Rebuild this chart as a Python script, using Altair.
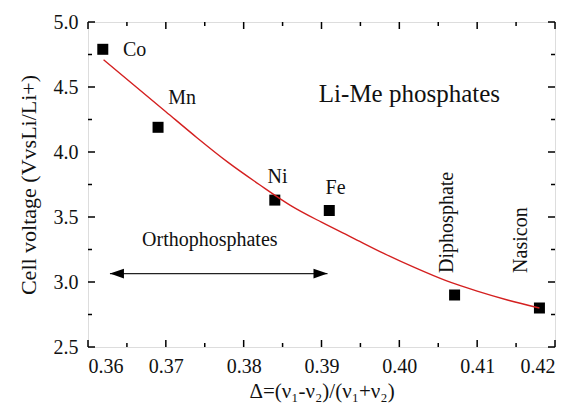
import altair as alt
import pandas as pd

# Data points
names = ["Co", "Mn", "Ni", "Fe", "Diphosphate", "Nasicon"]
delta = [0.3619, 0.3690, 0.3840, 0.3910, 0.4071, 0.4180]
voltage = [4.79, 4.19, 3.63, 3.55, 2.90, 2.80]

# Fitted curve
fit_x = [0.362, 0.366, 0.370, 0.374, 0.378, 0.382, 0.386, 0.390, 0.394,
         0.398, 0.402, 0.406, 0.410, 0.414, 0.418]
fit_y = [4.71, 4.51, 4.31, 4.11, 3.92, 3.75, 3.59, 3.46, 3.34,
         3.22, 3.11, 3.01, 2.93, 2.86, 2.80]

# Point labels
lab_text = ["Co", "Mn", "Ni", "Fe", "Orthophosphates"]
lab_x = [0.3645, 0.3703, 0.38436, 0.3918, 0.37565]
lab_y = [4.785, 4.415, 3.81, 3.72, 3.32]

title_text = ["Li-Me phosphates"]
title_x = [0.4013]
title_y = [4.45]

rot_text = ["Diphosphate", "Nasicon"]
rot_x = [0.40615, 0.41564]
rot_y = [3.07, 3.07]

# Arrow
arrow_x = [0.36282, 0.39077]
arrow_y = [3.065, 3.065]

# Ticks
x_major = [0.36, 0.37, 0.38, 0.39, 0.40, 0.41, 0.42]
x_minor = [0.365, 0.375, 0.385, 0.395, 0.405, 0.415]
y_major = [2.5, 3.0, 3.5, 4.0, 4.5, 5.0]
y_minor = [2.75, 3.25, 3.75, 4.25, 4.75]

W, H = 467, 325
FONT = "Liberation Serif"
INK = "#111111"

xs = alt.Scale(domain=[0.36, 0.42], nice=False, zero=False)
ys = alt.Scale(domain=[2.5, 5.0], nice=False, zero=False)

pts = pd.DataFrame({"name": names, "x": delta, "y": voltage})
fit = pd.DataFrame({"x": fit_x, "y": fit_y})
labs = pd.DataFrame({"t": lab_text, "x": lab_x, "y": lab_y})
ttl = pd.DataFrame({"t": title_text, "x": title_x, "y": title_y})
rots = pd.DataFrame({"t": rot_text, "x": rot_x, "y": rot_y})
arr = pd.DataFrame({"x": arrow_x, "y": arrow_y})

xaxis = alt.Axis(values=x_major, format=".2f", labelFontSize=20, labelFont=FONT,
                 labelColor=INK, ticks=False, domain=False, grid=False,
                 labelPadding=9, title="Δ=(ν₁-ν₂)/(ν₁+ν₂)", titleFont=FONT,
                 titleFontSize=21, titleFontWeight="normal", titleColor=INK,
                 titlePadding=4)
yaxis = alt.Axis(values=y_major, format=".1f", labelFontSize=20, labelFont=FONT,
                 labelColor=INK, ticks=False, domain=False, grid=False,
                 labelPadding=10, title="Cell voltage (VvsLi/Li+)", titleFont=FONT,
                 titleFontSize=22, titleFontWeight="normal", titleColor=INK,
                 titlePadding=13)

points = alt.Chart(pts).mark_point(shape="square", filled=True, size=121,
                                   color="black", opacity=1).encode(
    x=alt.X("x:Q", scale=xs, axis=xaxis),
    y=alt.Y("y:Q", scale=ys, axis=yaxis),
)

curve = alt.Chart(fit).mark_line(color="#d42020", strokeWidth=1.4,
                                 interpolate="monotone").encode(
    x=alt.X("x:Q", scale=xs), y=alt.Y("y:Q", scale=ys))

labs_left = labs[labs.t.isin(["Co", "Mn"])]
labs_center = labs[~labs.t.isin(["Co", "Mn"])]
texts_left = alt.Chart(labs_left).mark_text(font=FONT, fontSize=20, color=INK,
                                            align="left", baseline="middle").encode(
    x=alt.X("x:Q", scale=xs), y=alt.Y("y:Q", scale=ys), text="t:N")
texts_center = alt.Chart(labs_center).mark_text(font=FONT, fontSize=20, color=INK,
                                                align="center", baseline="middle").encode(
    x=alt.X("x:Q", scale=xs), y=alt.Y("y:Q", scale=ys), text="t:N")
big_text = alt.Chart(ttl).mark_text(font=FONT, fontSize=25, color=INK,
                                    align="center", baseline="middle").encode(
    x=alt.X("x:Q", scale=xs), y=alt.Y("y:Q", scale=ys), text="t:N")

rot = alt.Chart(rots).mark_text(font=FONT, color=INK, fontSize=20, angle=270,
                                align="left", baseline="middle").encode(
    x=alt.X("x:Q", scale=xs), y=alt.Y("y:Q", scale=ys), text="t:N")

arrow_line = alt.Chart(arr).mark_line(color="#222222", strokeWidth=1.3).encode(
    x=alt.X("x:Q", scale=xs), y=alt.Y("y:Q", scale=ys))
arrow_l = alt.Chart(arr.iloc[[0]]).mark_point(
    shape="M 0 0 L 2 -0.7 L 2 0.7 Z", filled=True, size=196, color="black",
    opacity=1).encode(x=alt.X("x:Q", scale=xs), y=alt.Y("y:Q", scale=ys))
arrow_r = alt.Chart(arr.iloc[[1]]).mark_point(
    shape="M 0 0 L -2 -0.7 L -2 0.7 Z", filled=True, size=196, color="black",
    opacity=1).encode(x=alt.X("x:Q", scale=xs), y=alt.Y("y:Q", scale=ys))


def xticks(vals, length):
    d = pd.DataFrame({"x": vals})
    base = alt.Chart(d).mark_rule(color="black", strokeWidth=1.5)
    b = base.encode(x=alt.X("x:Q", scale=xs), y=alt.value(H), y2=alt.value(H - length))
    t = base.encode(x=alt.X("x:Q", scale=xs), y=alt.value(0), y2=alt.value(length))
    return [b, t]


def yticks(vals, length):
    d = pd.DataFrame({"y": vals})
    base = alt.Chart(d).mark_rule(color="black", strokeWidth=1.5)
    l = base.encode(y=alt.Y("y:Q", scale=ys), x=alt.value(0), x2=alt.value(length))
    r = base.encode(y=alt.Y("y:Q", scale=ys), x=alt.value(W), x2=alt.value(W - length))
    return [l, r]


ticks = xticks(x_major, 7) + xticks(x_minor, 4) + yticks(y_major, 7) + yticks(y_minor, 4)

chart = alt.layer(
    points, curve, texts_left, texts_center, big_text, rot, arrow_line, arrow_l,
    arrow_r, *ticks
).properties(
    width=W, height=H,
    autosize=alt.AutoSizeParams(type="none"),
    padding={"left": 88, "top": 22, "right": 18, "bottom": 57},
    background="white",
).configure_view(stroke="black", strokeWidth=1.5
).configure(font=FONT)

chart.save("out.html", embed_options={"renderer": "svg", "actions": False})
